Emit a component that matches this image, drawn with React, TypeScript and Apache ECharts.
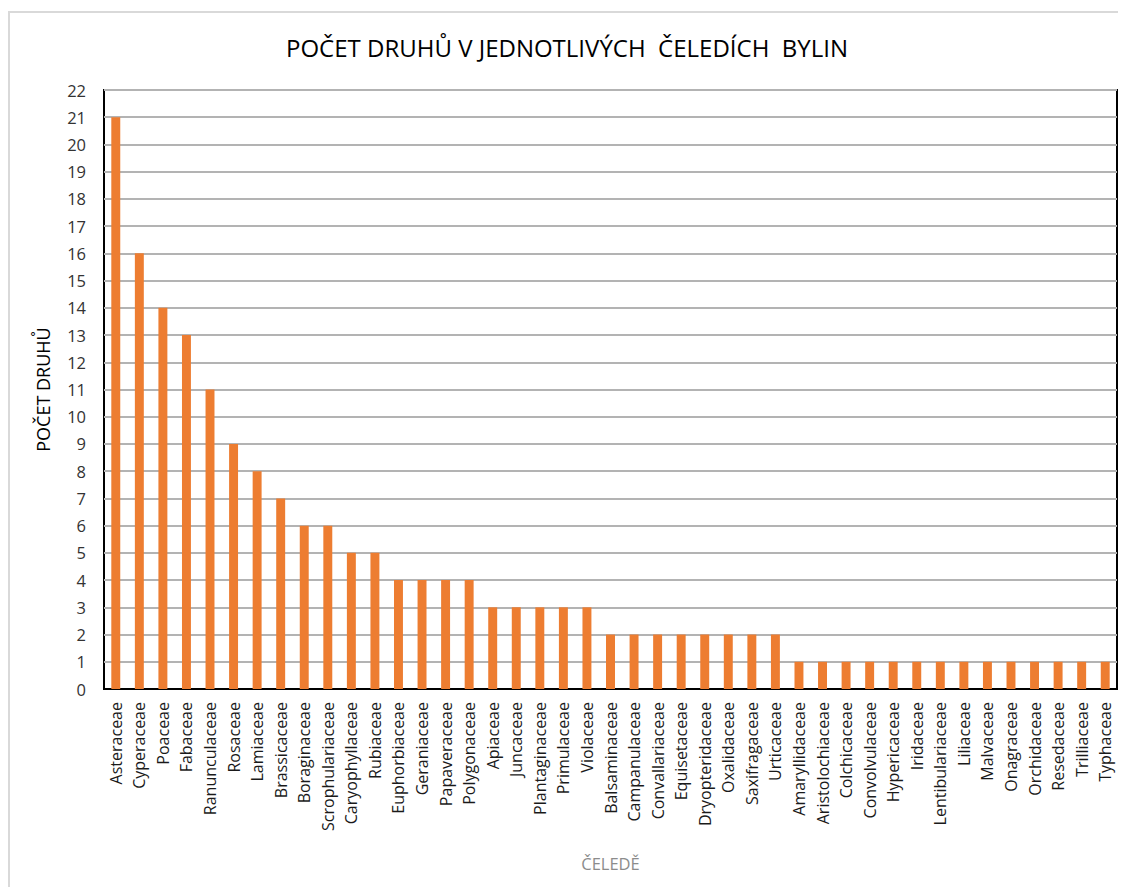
import React, { useEffect, useRef } from "react";
import * as echarts from "echarts";

const families: string[] = [
  "Asteraceae", "Cyperaceae", "Poaceae", "Fabaceae", "Ranunculaceae", "Rosaceae",
  "Lamiaceae", "Brassicaceae", "Boraginaceae", "Scrophulariaceae", "Caryophyllaceae",
  "Rubiaceae", "Euphorbiaceae", "Geraniaceae", "Papaveraceae", "Polygonaceae",
  "Apiaceae", "Juncaceae", "Plantaginaceae", "Primulaceae", "Violaceae",
  "Balsaminaceae", "Campanulaceae", "Convallariaceae", "Equisetaceae", "Dryopteridaceae",
  "Oxalidaceae", "Saxifragaceae", "Urticaceae", "Amaryllidaceae", "Aristolochiaceae",
  "Colchicaceae", "Convolvulaceae", "Hypericaceae", "Iridaceae", "Lentibulariaceae",
  "Liliaceae", "Malvaceae", "Onagraceae", "Orchidaceae", "Resedaceae", "Trilliaceae",
  "Typhaceae",
];

const speciesCount: number[] = [
  21, 16, 14, 13, 11, 9, 8, 7, 6, 6, 5, 5, 4, 4, 4, 4, 3, 3, 3, 3, 3,
  2, 2, 2, 2, 2, 2, 2, 2, 1, 1, 1, 1, 1, 1, 1, 1, 1, 1, 1, 1, 1, 1,
];

const titleText = "POČET DRUHŮ V JEDNOTLIVÝCH  ČELEDÍCH  BYLIN";
const yAxisTitle = "POČET DRUHŮ";
const xAxisTitle = "ČELEDĚ";
const yMin = 0;
const yMax = 22;
const yStep = 1;

const FONT = "'Open Sans', 'Noto Sans', sans-serif";

export default function App() {
  const ref = useRef<HTMLDivElement>(null);
  useEffect(() => {
    if (!ref.current) return;
    const chart = echarts.init(ref.current, undefined, { renderer: "svg" });
    chart.setOption({
      animation: false,
      backgroundColor: "#ffffff",
      textStyle: { fontFamily: FONT },
      title: {
        text: titleText,
        left: "center",
        top: 22,
        textStyle: { fontFamily: FONT, fontSize: 24, fontWeight: "normal", color: "#000000" },
      },
      graphic: [
        {
          type: "rect",
          shape: { x: 1, y: 4, width: 1116, height: 900 },
          style: { fill: "none", stroke: "#d9d9d9", lineWidth: 2 },
          silent: true,
          z: -1,
        },
      ],
      grid: {
        left: 96,
        top: 82,
        right: 9,
        bottom: 198,
        show: true,
        borderColor: "#000000",
        borderWidth: 2,
        backgroundColor: "transparent",
      },
      xAxis: {
        type: "category",
        data: families,
        name: xAxisTitle,
        nameLocation: "middle",
        nameGap: 166,
        nameTextStyle: { fontFamily: FONT, fontSize: 16.5, color: "#8c8c8c" },
        axisLine: { show: true, lineStyle: { color: "#000000", width: 2 } },
        axisTick: { show: false },
        axisLabel: {
          rotate: 90,
          interval: 0,
          margin: 13,
          fontFamily: FONT,
          fontSize: 16,
          color: "#1a1a1a",
        },
      },
      yAxis: {
        type: "value",
        min: yMin,
        max: yMax,
        interval: yStep,
        name: yAxisTitle,
        nameLocation: "middle",
        nameGap: 52,
        nameTextStyle: { fontFamily: FONT, fontSize: 18, color: "#000000" },
        axisLine: { show: false },
        axisTick: { show: false },
        axisLabel: { margin: 18, fontFamily: FONT, fontSize: 16.5, color: "#333333" },
        splitLine: { show: true, lineStyle: { color: "#b3b3b3", width: 2 } },
      },
      series: [
        {
          type: "bar",
          data: speciesCount,
          barWidth: "38%",
          itemStyle: { color: "#ED7D31" },
        },
      ],
    });
    return () => chart.dispose();
  }, []);
  return <div ref={ref} style={{ width: 1118, height: 879 }} />;
}
